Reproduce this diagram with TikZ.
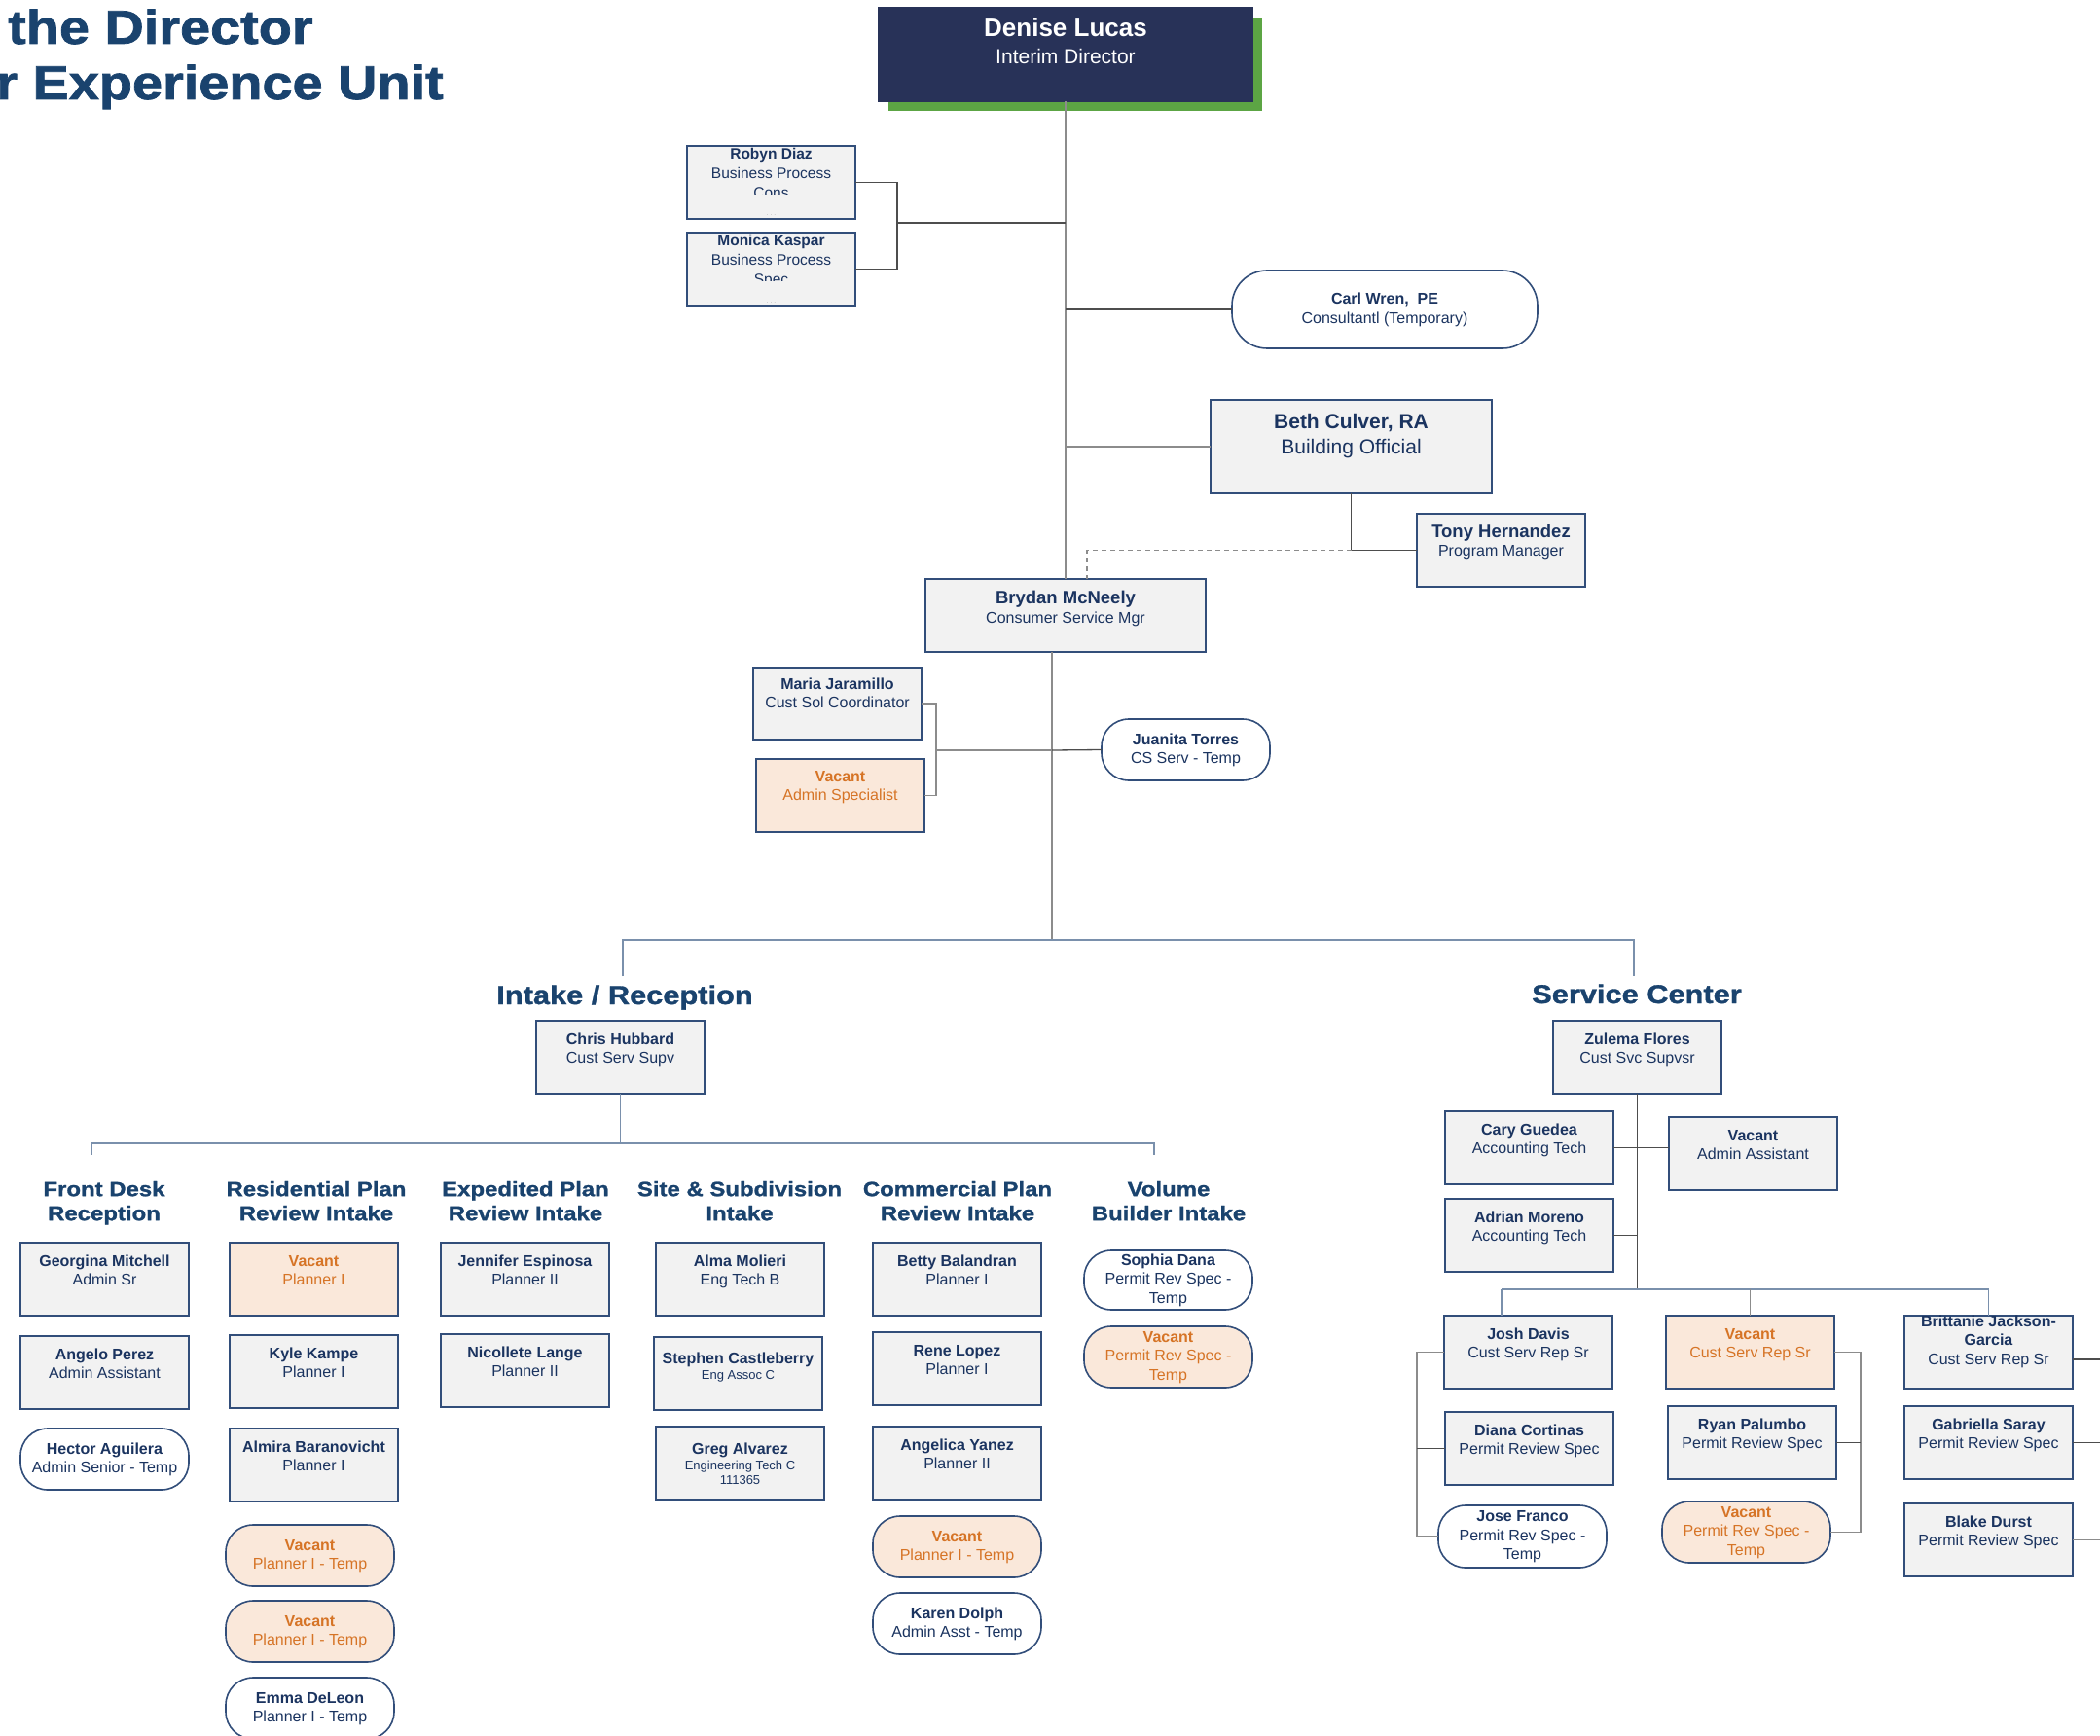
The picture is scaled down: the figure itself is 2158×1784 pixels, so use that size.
\documentclass[tikz,border=0pt]{standalone}
\usepackage{fontspec}
\setmainfont{Liberation Sans}
\newfontfamily\hdrfont[FakeStretch=1.14,FakeBold=1.2]{Liberation Sans Bold}
\newfontfamily\ttlfont[FakeStretch=1.14,FakeBold=1.5]{Liberation Sans Bold}
\definecolor{navyfill}{RGB}{40,50,88}
\definecolor{dgreen}{RGB}{92,165,68}
\definecolor{boxfill}{RGB}{242,242,242}
\definecolor{boxline}{RGB}{50,78,122}
\definecolor{namec}{RGB}{27,52,96}
\definecolor{vacfill}{RGB}{250,232,218}
\definecolor{vactext}{RGB}{214,116,38}
\definecolor{hdrc}{RGB}{26,67,110}
\definecolor{lnblue}{RGB}{122,144,172}
\definecolor{lngray}{RGB}{140,140,140}
\definecolor{lndark}{RGB}{77,77,77}
\newcommand\nm[1]{\rule{0pt}{12pt}\textbf{#1}}
\newcommand\pbox[6][]{\node[box,#1,label={[lab,#1,yshift=-12pt]north:{\nm{#5}\\#6}}] (#2) at (#3,#4) {};}
\newcommand\ppill[6][]{\node[pill,#1] (#2) at (#3,#4) {\nm{#5}\\#6};}
\tikzset{
  box/.style={draw=boxline, line width=1.6pt, fill=boxfill, anchor=north west, minimum width=173pt, minimum height=75pt, inner sep=0pt, outer sep=0pt},
  vac/.style={fill=vacfill, text=vactext},
  pill/.style={draw=boxline, line width=1.6pt, fill=white, rounded corners=28pt, anchor=north west, minimum width=173pt, minimum height=63pt, inner sep=0pt, outer sep=0pt, align=center, text=namec, font=\fontsize{16}{19.5}\selectfont},
  lab/.style={anchor=north, inner sep=0pt, outer sep=0pt, align=center, text=namec, font=\fontsize{16}{19.5}\selectfont},
  hdr/.style={anchor=north, inner sep=0pt, align=center, text=hdrc, font=\fontsize{21}{25}\selectfont\hdrfont},
  sechdr/.style={anchor=base, inner sep=0pt, text=hdrc, font=\fontsize{27}{27}\selectfont\hdrfont},
  ttl/.style={inner sep=0pt, text=hdrc, font=\fontsize{49}{49}\selectfont\ttlfont},
  dots/.style={inner sep=0pt, text=gray!60, font=\fontsize{7}{7}\selectfont},
  lnd/.style={draw=lndark, line width=1.3pt},
  lng/.style={draw=lngray, line width=1.8pt},
  lnb/.style={draw=lnblue, line width=1.8pt},
}
\begin{document}
\begin{tikzpicture}[x=1pt,y=-1pt]
\fill[white] (0,0) rectangle (2158,1784);
\useasboundingbox (0,0) rectangle (2158,1784);

% title
\node[ttl, anchor=base west] (ttl1) at (8,45) {the Director};
\node[ttl, anchor=base east] (ttl2) at (456,102) {r Experience Unit};

% director
\fill[dgreen] (913,18) rectangle (1297,114);
\node[box, draw=navyfill, fill=navyfill, minimum width=384pt, minimum height=96pt,
  label={[lab, text=white, font=\fontsize{26}{26}\selectfont\bfseries, yshift=-11pt]north:{\rule{0pt}{19pt}Denise Lucas}},
  label={[lab, text=white, font=\fontsize{21}{21}\selectfont, yshift=-42pt]north:{\rule{0pt}{15pt}Interim Director}}] (denise) at (903,8) {};

% business process
\node[box] (robyn) at (706,150) {};
\begin{scope}
\clip (706,150) rectangle (879,200);
\node[lab, font=\fontsize{15.5}{20}\selectfont, yshift=-2pt] (robynT) at (robyn.north) {\rule{0pt}{11.5pt}\textbf{Robyn Diaz}\\Business Process\\Cons};
\end{scope}
\node[dots] (robynD) at (792.5,221) {.\ .\ .};
\node[box] (monica) at (706,239) {};
\begin{scope}
\clip (706,239) rectangle (879,289);
\node[lab, font=\fontsize{15.5}{20}\selectfont, yshift=-2pt] (monicaT) at (monica.north) {\rule{0pt}{11.5pt}\textbf{Monica Kaspar}\\Business Process\\Spec};
\end{scope}
\node[dots] (monicaD) at (792.5,311) {.\ .\ .};

\node[pill, minimum width=314pt, minimum height=80pt, rounded corners=36pt] (carl) at (1266,278) {\nm{Carl Wren,\ \ PE}\\Consultantl (Temporary)};

\node[box, minimum width=289pt, minimum height=96pt,
  label={[lab, font=\fontsize{21}{21}\selectfont\bfseries, yshift=-14pt]north:{\rule{0pt}{15pt}Beth Culver, RA}},
  label={[lab, font=\fontsize{21}{21}\selectfont, yshift=-40pt]north:{\rule{0pt}{15pt}Building Official}}] (beth) at (1244,411) {};

\node[box,
  label={[lab, font=\fontsize{18.5}{18.5}\selectfont\bfseries, yshift=-10.5pt]north:{\rule{0pt}{13.5pt}Tony Hernandez}},
  label={[lab, yshift=-31pt]north:{\rule{0pt}{12pt}Program Manager}}] (tony) at (1456,528) {};

\node[box, minimum width=288pt,
  label={[lab, font=\fontsize{18.5}{18.5}\selectfont\bfseries, yshift=-11.5pt]north:{\rule{0pt}{13.5pt}Brydan McNeely}},
  label={[lab, yshift=-33pt]north:{\rule{0pt}{12pt}Consumer Service Mgr}}] (brydan) at (951,595) {};

\node[box, minimum height=74pt, label={[lab,yshift=-10pt]north:{\nm{Maria Jaramillo}\\Cust Sol Coordinator}}] (maria) at (774,686) {};
\node[box, vac, label={[lab,vac,yshift=-11pt]north:{\nm{Vacant}\\Admin Specialist}}] (vadm) at (777,780) {};
\ppill{juanita}{1132}{739}{Juanita Torres}{CS Serv - Temp}

% section headers
\node[sechdr] (secIR) at (642,1032) {Intake / Reception};
\node[sechdr] (secSC) at (1682,1031) {Service Center};

\pbox{chris}{551}{1049}{Chris Hubbard}{Cust Serv Supv}
\pbox{zulema}{1596}{1049}{Zulema Flores}{Cust Svc Supvsr}

% column headers
\node[hdr] (hFD) at (107,1213) {\rule{0pt}{16pt}Front Desk\\Reception};
\node[hdr] (hRP) at (325,1213) {\rule{0pt}{16pt}Residential Plan\\Review Intake};
\node[hdr] (hEP) at (540,1213) {\rule{0pt}{16pt}Expedited Plan\\Review Intake};
\node[hdr] (hSS) at (760,1213) {\rule{0pt}{16pt}Site \& Subdivision\\Intake};
\node[hdr] (hCP) at (984,1213) {\rule{0pt}{16pt}Commercial Plan\\Review Intake};
\node[hdr] (hVB) at (1201,1213) {\rule{0pt}{16pt}Volume\\Builder Intake};

% front desk
\pbox{georgina}{21}{1277}{Georgina Mitchell}{Admin Sr}
\pbox{angelo}{21}{1373}{Angelo Perez}{Admin Assistant}
\ppill{hector}{21}{1468}{Hector Aguilera}{Admin Senior - Temp}
% residential
\pbox[vac]{vpl1}{236}{1277}{Vacant}{Planner I}
\pbox{kyle}{236}{1372}{Kyle Kampe}{Planner I}
\pbox{almira}{236}{1468}{Almira Baranovicht}{Planner I}
\ppill[vac]{vpt1}{232}{1567}{Vacant}{Planner I - Temp}
\ppill[vac]{vpt2}{232}{1645}{Vacant}{Planner I - Temp}
\ppill{emma}{232}{1724}{Emma DeLeon}{Planner I - Temp}
% expedited
\pbox{jennifer}{453}{1277}{Jennifer Espinosa}{Planner II}
\pbox{nicollete}{453}{1371}{Nicollete Lange}{Planner II}
% site
\pbox{alma}{674}{1277}{Alma Molieri}{Eng Tech B}
\node[box, label={[lab,yshift=-15pt]north:{\nm{Stephen Castleberry}}},
  label={[lab, font=\fontsize{13}{15}\selectfont, yshift=-33pt]north:{\rule{0pt}{10pt}Eng Assoc C}}] (stephen) at (672,1374) {};
\node[box, label={[lab,yshift=-16pt]north:{\nm{Greg Alvarez}}},
  label={[lab, font=\fontsize{13}{15}\selectfont, yshift=-34pt]north:{\rule{0pt}{10pt}Engineering Tech C\\111365}}] (greg) at (674,1466) {};
% commercial
\pbox{betty}{897}{1277}{Betty Balandran}{Planner I}
\pbox{rene}{897}{1369}{Rene Lopez}{Planner I}
\pbox{angelica}{897}{1466}{Angelica Yanez}{Planner II}
\ppill[vac]{vpt3}{897}{1558}{Vacant}{Planner I - Temp}
\ppill{karen}{897}{1637}{Karen Dolph}{Admin Asst - Temp}
% volume
\ppill[minimum height=61pt]{sophia}{1114}{1285}{Sophia Dana}{Permit Rev Spec -\\Temp}
\ppill[vac]{vprs}{1114}{1363}{Vacant}{Permit Rev Spec -\\Temp}

% service center
\pbox{cary}{1485}{1142}{Cary Guedea}{Accounting Tech}
\pbox{vaa}{1715}{1148}{Vacant}{Admin Assistant}
\pbox{adrian}{1485}{1232}{Adrian Moreno}{Accounting Tech}
\pbox{josh}{1484}{1352}{Josh Davis}{Cust Serv Rep Sr}
\pbox[vac]{vcsr}{1712}{1352}{Vacant}{Cust Serv Rep Sr}
\node[box, label={[lab,yshift=1pt]north:{\nm{Brittanie Jackson-}\\\textbf{Garcia}\\Cust Serv Rep Sr}}] (britt) at (1957,1352) {};
\pbox{diana}{1485}{1451}{Diana Cortinas}{Permit Review Spec}
\pbox{ryan}{1714}{1445}{Ryan Palumbo}{Permit Review Spec}
\pbox{gab}{1957}{1445}{Gabriella Saray}{Permit Review Spec}
\ppill[minimum height=64pt]{jose}{1478}{1547}{Jose Franco}{Permit Rev Spec -\\Temp}
\ppill[vac]{vprs2}{1708}{1543}{Vacant}{Permit Rev Spec -\\Temp}
\pbox{blake}{1957}{1545}{Blake Durst}{Permit Review Spec}

% ---------- connectors ----------
\draw[lng] (denise.south) -- (brydan.north);
\coordinate (rmB) at (922,229);
\draw[lnd] (robyn.east) -| (rmB) |- (monica.east);
\draw[lnd] (rmB) -- (rmB -| denise.south);
\draw[lnd] (carl.west -| denise.south) -- (carl.west);
\draw[lng] (beth.west -| denise.south) -- (beth.west);
\draw[lnd] (beth.south) |- (tony.west);
\draw[lng, line width=1.3pt, dash pattern=on 5pt off 4pt] (beth.south |- tony.west) -| ([xshift=22pt]brydan.north);

\coordinate (t2) at ([xshift=-14pt]brydan.south);
\coordinate (hb) at (t2 |- 0,966);
\draw[lng] (t2) -- (hb);
\coordinate (mB) at (962,771);
\draw[lng] (maria.east) -| (mB) |- (vadm.east);
\draw[lng] (mB) -- (mB -| t2);
\draw[lnd] (mB -| t2) -- (juanita.west);

\coordinate (hbL) at (640,966);
\coordinate (hbR) at (1679,966);
\coordinate (irTop) at (640,1003);
\coordinate (scTop) at (1679,1003);
\draw[lnb] (irTop) -- (hbL) -- (hbR) -- (scTop);

% intake
\coordinate (ihb) at (637.5,1175);
\coordinate (ihL) at (94,1175);
\coordinate (ihR) at (1186,1175);
\coordinate (ihLd) at (94,1187);
\coordinate (ihRd) at (1186,1187);
\draw[lnb] (chris.south) -- (ihb);
\draw[lnb] (ihLd) -- (ihL) -- (ihR) -- (ihRd);

% service center
\coordinate (shb) at (zulema.south |- 0,1325);
\draw[lnd] (zulema.south) -- (shb);
\draw[lnd] (cary.east) -- (cary.east -| vaa.west);
\draw[lnd] (adrian.east) -- (adrian.east -| zulema.south);
\coordinate (shL) at (1543,1325);
\coordinate (shR) at (britt.north |- 0,1325);
\draw[lnb] (shL) -- (shR);
\draw[lnb] (shL) -- (shL |- josh.north);
\draw[lng] (vcsr.north |- shL) -- (vcsr.north);
\draw[lnb] (shR) -- (britt.north);

\coordinate (jB) at (1456,1389);
\draw[lng] (josh.west) -- (josh.west -| jB) |- (jose.west);
\draw[lnd] (diana.west) -- (diana.west -| jB);
\coordinate (vB) at (1912,1389);
\draw[lng] (vcsr.east) -- (vcsr.east -| vB) |- (vprs2.east);
\draw[lnd] (ryan.east) -- (ryan.east -| vB);

\coordinate (rr1) at (2170,1397);
\coordinate (rr2) at (2170,1482.5);
\coordinate (rr3) at (2170,1582.5);
\draw[lnd] (rr1 -| britt.east) -- (rr1);
\draw[lnd] (gab.east) -- (rr2);
\draw[lng] (blake.east) -- (rr3);
\end{tikzpicture}
\end{document}
